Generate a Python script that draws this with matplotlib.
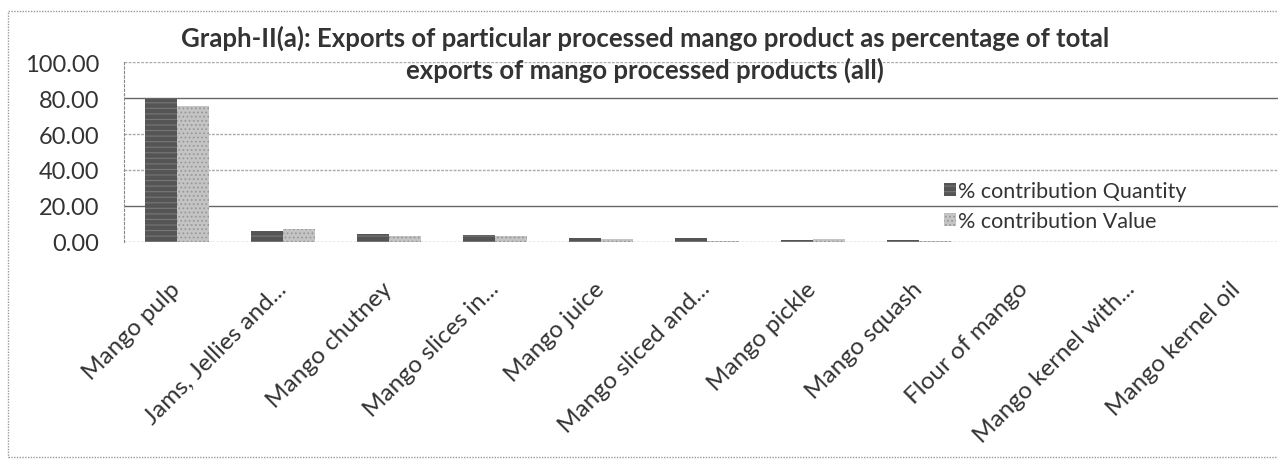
import matplotlib
matplotlib.use("Agg")
import matplotlib.pyplot as plt
import numpy as np
from matplotlib.patches import Rectangle

categories = ["Mango pulp", "Jams, Jellies and...", "Mango chutney", "Mango slices in...",
              "Mango juice", "Mango sliced and...", "Mango pickle", "Mango squash",
              "Flour of mango", "Mango kernel with...", "Mango kernel oil"]
quantity = [79.4, 6.3, 4.4, 3.9, 2.4, 2.2, 1.3, 0.9, 0.0, 0.0, 0.0]
value = [75.7, 7.2, 3.5, 3.5, 1.8, 0.6, 1.8, 0.5, 0.0, 0.0, 0.0]
yticks = [0, 20, 40, 60, 80, 100]
title = "Graph-II(a): Exports of particular processed mango product as percentage of total\nexports of mango processed products (all)"

plt.rcParams['font.family'] = ['Lato', 'DejaVu Sans']
plt.rcParams['hatch.linewidth'] = 0.8

fig = plt.figure(figsize=(12.78, 4.6), dpi=100)
ax = fig.add_axes([124/1278, 1 - 243/460, (1290 - 124)/1278, 180/460])

x = np.arange(len(categories))
w = 0.3
plt.rcParams['hatch.color'] = '#888888'
bq = ax.bar(x - w/2, quantity, w, color='#555555', hatch='---', edgecolor='#777777', linewidth=0,
            label='% contribution Quantity', zorder=3)
bv = ax.bar(x + w/2, value, w, color='#c4c4c4', hatch='....', edgecolor='#999999', linewidth=0,
            label='% contribution Value', zorder=3)

ax.set_xlim(-0.5, len(categories) - 0.5)
ax.set_ylim(0, 100)
ax.set_yticks(yticks)
ax.set_yticklabels([f"{v:.2f}" for v in yticks], fontsize=17, color='#333333')
ax.tick_params(axis='y', length=0, pad=18)
ax.tick_params(axis='x', length=0, pad=31)
ax.set_xticks(x)
ax.set_xticklabels(categories, rotation=45, ha='right', va='center', rotation_mode='anchor',
                   fontsize=17.5, color='#333333')

for yv in yticks[1:]:
    c = '#666666' if yv in (80, 20) else '#aaaaaa'
    ls = '-' if yv in (80, 20) else (0, (2, 1))
    ax.axhline(yv, color=c, lw=1.0, ls=ls, zorder=1)
ax.axhline(0, color='#999999', lw=1.0, ls=(0, (2, 1)), zorder=1)

for s in ['top', 'right', 'bottom']:
    ax.spines[s].set_visible(False)
ax.spines['left'].set_color('#888888')
ax.spines['left'].set_linestyle((0, (2, 2)))

fig.text(0.505, 1 - 54/460, title, ha='center', va='center', fontsize=18.5, fontweight='bold',
         color='#333333', linespacing=1.3)

leg = ax.legend(loc='center left', bbox_to_anchor=((933 - 124)/1166, (243 - 207)/180), frameon=False,
                fontsize=15.5, handlelength=0.55, handleheight=0.55, handletextpad=0.1,
                labelspacing=0.45, borderpad=0)
for t in leg.get_texts():
    t.set_color('#333333')

border = Rectangle((8/1278, 2/460), 1.2, 446/460, transform=fig.transFigure, fill=False,
                   edgecolor='#999999', lw=1, ls=(0, (1, 1)))
fig.patches.append(border)

fig.savefig('out.png', dpi=100, facecolor='white')
